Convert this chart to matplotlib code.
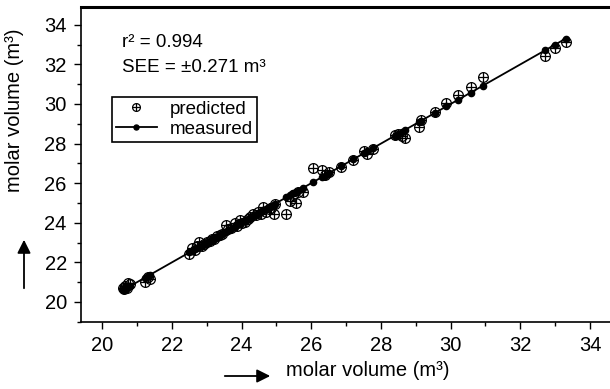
"""Predicted vs measured molar volume, parity plot."""
from matplotlib import pyplot as plt
from matplotlib.ticker import MultipleLocator

plt.rcParams['font.family'] = ['Liberation Sans', 'DejaVu Sans']

measured = [20.60, 20.63, 20.66, 20.70, 20.75, 20.80, 21.22, 21.30, 21.38,
            22.50, 22.58, 22.65, 22.72, 22.78, 22.85, 22.92, 23.00, 23.08,
            23.15, 23.22, 23.30, 23.38, 23.45, 23.55, 23.62, 23.70, 23.80,
            23.88, 23.95, 24.02, 24.10, 24.18, 24.25, 24.32, 24.40, 24.48,
            24.55, 24.62, 24.70, 24.78, 24.85, 24.92, 24.95, 25.28, 25.40,
            25.48, 25.55, 25.62, 25.75, 26.05, 26.30, 26.38, 26.52, 26.85,
            27.20, 27.50, 27.60, 27.78, 28.40, 28.48, 28.60, 28.70, 29.08,
            29.15, 29.55, 29.88, 30.20, 30.58, 30.92, 32.72, 33.00, 33.30]
predicted = [20.72, 20.65, 20.80, 20.68, 20.95, 20.90, 21.02, 21.25, 21.18,
             22.42, 22.70, 22.60, 22.80, 23.05, 22.85, 22.95, 23.02, 23.10,
             23.20, 23.18, 23.35, 23.40, 23.42, 23.88, 23.70, 23.75, 24.00,
             23.85, 24.15, 24.00, 24.05, 24.20, 24.30, 24.45, 24.38, 24.55,
             24.45, 24.82, 24.55, 24.70, 24.75, 24.45, 24.95, 24.45, 25.08,
             25.40, 25.00, 25.55, 25.55, 26.76, 26.66, 26.40, 26.54, 26.80,
             27.15, 27.62, 27.45, 27.75, 28.42, 28.50, 28.38, 28.27, 28.86,
             29.18, 29.62, 30.05, 30.45, 30.86, 31.34, 32.42, 32.83, 33.12]

fig = plt.figure(figsize=(6.1, 3.89), dpi=100)
ax = fig.add_axes([0.1323, 0.173, 0.872, 0.809])

# predicted: circle with a cross inside
circ, = ax.plot(measured, predicted, 'o', ms=7, mfc='none', mec='black',
                mew=0.9, zorder=2)
plus, = ax.plot(measured, predicted, '+', ms=7, color='black', mew=0.9,
                zorder=2)
meas, = ax.plot(measured, measured, '-o', color='black', lw=1.3, ms=4.5,
                zorder=3)

ax.set_xlim(19.38, 34.65)
ax.set_ylim(19.0, 34.9)
ax.xaxis.set_major_locator(MultipleLocator(2))
ax.xaxis.set_minor_locator(MultipleLocator(1))
ax.yaxis.set_major_locator(MultipleLocator(2))
ax.yaxis.set_minor_locator(MultipleLocator(1))
ax.tick_params(which='major', direction='out', length=5, width=1,
               labelsize=14.5, pad=5)
ax.tick_params(which='minor', direction='out', length=3, width=1)
ax.spines['right'].set_visible(False)
ax.spines['top'].set_linewidth(2.2)
ax.spines['left'].set_linewidth(1.2)
ax.spines['bottom'].set_linewidth(1.2)

leg = ax.legend([(circ, plus), meas], ['predicted', 'measured'],
                loc='upper left', bbox_to_anchor=(0.1836, 0.7506),
                bbox_transform=fig.transFigure, borderaxespad=0,
                fontsize=13.5, fancybox=False, framealpha=1,
                edgecolor='black', handlelength=2.2, borderpad=0.2,
                labelspacing=0.15, handletextpad=0.7, markerscale=0.8)
leg.get_frame().set_linewidth(1.2)

fig.text(122 / 610, 1 - 47 / 389, 'r\u00b2 = 0.994', fontsize=13.5,
         va='baseline')
fig.text(122 / 610, 1 - 72 / 389, 'SEE = \u00b10.271 m\u00b3', fontsize=13.5,
         va='baseline')

fig.text(368 / 610, 1 - 370 / 389, 'molar volume (m\u00b3)', fontsize=14.5,
         ha='center', va='center')
fig.text(15 / 610, 1 - 110 / 389, 'molar volume (m\u00b3)', fontsize=14.5,
         ha='center', va='center', rotation=90)
arrow = dict(arrowstyle='-|>', lw=1.3, color='black', mutation_scale=20)
ax.annotate('', xy=(273 / 610, 1 - 376 / 389),
            xytext=(222 / 610, 1 - 376 / 389),
            xycoords='figure fraction', arrowprops=arrow)
ax.annotate('', xy=(24 / 610, 1 - 237 / 389),
            xytext=(24 / 610, 1 - 291 / 389),
            xycoords='figure fraction', arrowprops=arrow)

fig.savefig('out.png', dpi=100)
